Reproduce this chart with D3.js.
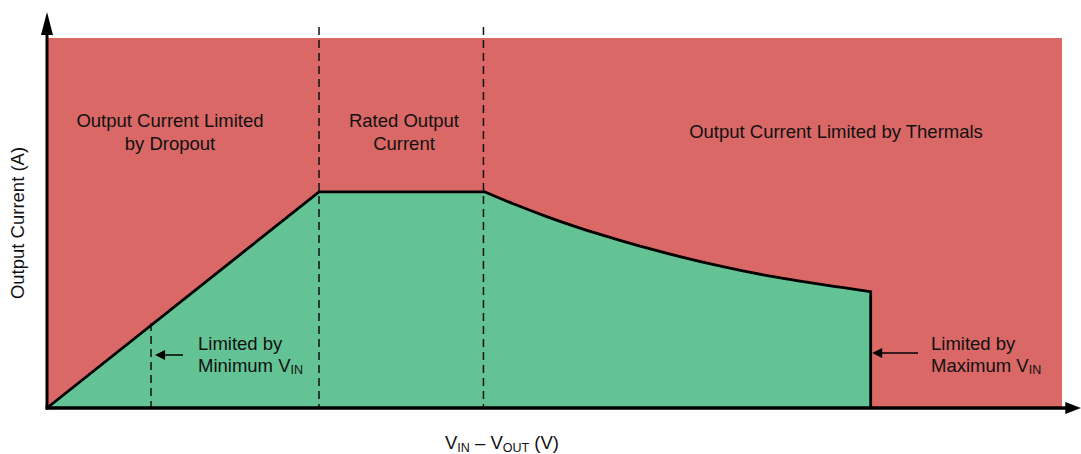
<!DOCTYPE html>
<html><head><meta charset="utf-8">
<script src="https://cdn.jsdelivr.net/npm/d3@7"></script>
<style>html,body{margin:0;padding:0;background:#fff;}svg{display:block;font-family:"Liberation Sans",Arial,Helvetica,sans-serif;}</style>
</head><body>
<svg id="c" width="1081" height="454"></svg>
<script>
// ---- data (arbitrary units: V_IN - V_OUT on x, output current on y) ----
// dropout-limited ramp and rated plateau
const rampX = [0, 2.68, 4.315];
const rampY = [0, 5.84, 5.84];
// thermally limited curve
const thermalX = [4.315, 4.594, 4.923, 5.251, 5.579, 5.908, 6.236, 6.515, 6.844, 7.172, 7.500, 7.830, 8.115];
const thermalY = [5.84, 5.519, 5.174, 4.862, 4.586, 4.326, 4.090, 3.906, 3.712, 3.541, 3.393, 3.258, 3.144];
const maxVinX = 8.115;
const dividerX = [1.025, 2.68, 4.30];
const dividerTop = [2.30, 10.30, 10.30];
const regionLabels = [
  ["Output Current Limited", "by Dropout"],
  ["Rated Output", "Current"],
  ["Output Current Limited by Thermals"]
];
const xLabel = ["V", "IN", " – V", "OUT", " (V)"];
const yLabel = "Output Current (A)";

// ---- layout ----
const x = d3.scaleLinear().domain([0, 10]).range([47, 1062]);
const y = d3.scaleLinear().domain([0, 10]).range([408, 38]);
const RED = "#d96866", GREEN = "#63c394";
const FS = 18.5;
const svg = d3.select("#c");

// red background region
svg.append("rect").attr("x", x(0)).attr("y", y(10)).attr("width", x(10) - x(0)).attr("height", y(0) - y(10)).attr("fill", RED);

const rampPts = rampX.map((v, i) => [v, rampY[i]]);
const thermPts = thermalX.map((v, i) => [v, thermalY[i]]);
const lin = d3.line().x(d => x(d[0])).y(d => y(d[1]));
const mono = d3.line().curve(d3.curveMonotoneX).x(d => x(d[0])).y(d => y(d[1]));
const boundaryPath = lin(rampPts) + mono(thermPts).replace(/^M/, "L") + `L${x(maxVinX)},${y(0)}`;

// green safe area
svg.append("path").attr("d", boundaryPath + "Z").attr("fill", GREEN);

// dashed dividers
svg.selectAll("line.div").data(dividerX).join("line")
  .attr("x1", d => x(d)).attr("x2", d => x(d))
  .attr("y1", (d, i) => y(dividerTop[i])).attr("y2", y(0))
  .attr("stroke", "#111").attr("stroke-width", 1.5).attr("stroke-dasharray", "8,5");

// boundary line
svg.append("path").attr("d", boundaryPath)
  .attr("fill", "none").attr("stroke", "#000").attr("stroke-width", 2.8).attr("stroke-linejoin", "miter");

// axes
svg.append("line").attr("x1", x(0)).attr("x2", x(0)).attr("y1", y(0) + 1.5).attr("y2", y(10.1)).attr("stroke", "#000").attr("stroke-width", 3);
svg.append("line").attr("x1", x(0) - 1.5).attr("x2", x(10.05)).attr("y1", y(0)).attr("y2", y(0)).attr("stroke", "#000").attr("stroke-width", 3.5);
// arrowheads
const yt = y(10.7), xt = x(10.19);
svg.append("path").attr("d", `M${x(0)},${yt} L${x(0) - 6},${yt + 23} L${x(0) + 6},${yt + 23} Z`).attr("fill", "#000");
svg.append("path").attr("d", `M${xt},${y(0)} L${xt - 16},${y(0) - 6} L${xt - 16},${y(0) + 6} Z`).attr("fill", "#000");

// region labels
const txt = (t, px, py, anchor) => svg.append("text").attr("x", px).attr("y", py)
  .attr("text-anchor", anchor || "middle").attr("font-size", FS).attr("fill", "#111").text(t);
txt(regionLabels[0][0], 170, 127); txt(regionLabels[0][1], 170, 150);
txt(regionLabels[1][0], 404, 127); txt(regionLabels[1][1], 404, 150);
txt(regionLabels[2][0], 836, 138);

// annotation with subscript
function annot(px, py, line1, main, sub) {
  svg.append("text").attr("x", px).attr("y", py).attr("font-size", FS).attr("fill", "#111").text(line1);
  const t = svg.append("text").attr("x", px).attr("y", py + 21.5).attr("font-size", FS).attr("fill", "#111");
  t.append("tspan").text(main);
  t.append("tspan").attr("font-size", 12.5).attr("dy", 2.5).text(sub);
}
annot(198, 350, "Limited by", "Minimum V", "IN");
annot(931, 350, "Limited by", "Maximum V", "IN");

// small arrows
function arrow(x1, x2, yy) {
  svg.append("line").attr("x1", x1 + 8).attr("x2", x2).attr("y1", yy).attr("y2", yy).attr("stroke", "#000").attr("stroke-width", 1.5);
  svg.append("path").attr("d", `M${x1},${yy} L${x1 + 10},${yy - 5} L${x1 + 10},${yy + 5} Z`).attr("fill", "#000");
}
arrow(x(dividerX[0]) + 4, 183, 355);
arrow(x(maxVinX) + 1.5, 918, 353);

// axis titles
const xl = svg.append("text").attr("x", 502).attr("y", 449).attr("text-anchor", "middle").attr("font-size", FS).attr("fill", "#111");
xLabel.forEach((s, i) => {
  const ts = xl.append("tspan").text(s);
  if (i % 2 === 1) ts.attr("font-size", 12.5).attr("dy", 2.5);
  else if (i > 0) ts.attr("dy", -2.5);
});
svg.append("text").attr("transform", `translate(24,223) rotate(-90)`).attr("text-anchor", "middle").attr("font-size", FS).attr("fill", "#111").text(yLabel);
</script>
</body></html>
